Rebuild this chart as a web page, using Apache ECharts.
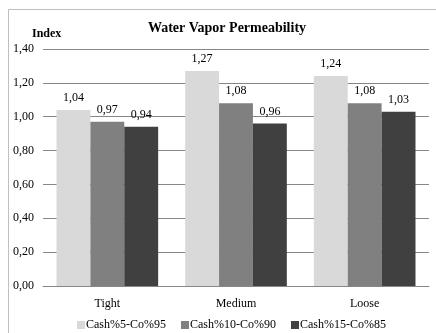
<!DOCTYPE html>
<html><head><meta charset="utf-8">
<script src="https://cdn.jsdelivr.net/npm/echarts@6/dist/echarts.min.js"></script>
<style>html,body{margin:0;padding:0;background:#fff}#c{width:436px;height:333px}</style>
</head><body><div id="c"></div>
<script>
var categories = ['Tight', 'Medium', 'Loose'];
var seriesNames = ['Cash%5-Co%95', 'Cash%10-Co%90', 'Cash%15-Co%85'];
var s1 = [1.04, 1.27, 1.24];
var s2 = [0.97, 1.08, 1.08];
var s3 = [0.94, 0.96, 1.03];
var colors = ['#d9d9d9', '#808080', '#404040'];
var font = '"Liberation Serif", "Times New Roman", serif';
function fmt(v){ return v.toFixed(2).replace('.', ','); }
var chart = echarts.init(document.getElementById('c'));
var data = [s1, s2, s3];
chart.setOption({
  animation: false,
  textStyle: {fontFamily: font},
  graphic: [
    {type: 'line', shape: {x1: 8.5, y1: 9.5, x2: 436, y2: 9.5}, style: {stroke: '#bfbfbf', lineWidth: 1}},
    {type: 'line', shape: {x1: 8.5, y1: 9.5, x2: 8.5, y2: 333}, style: {stroke: '#bfbfbf', lineWidth: 1}}
  ],
  title: [{text: 'Water Vapor Permeability', left: 222, top: 16, textAlign: 'center',
    textStyle: {fontFamily: font, fontSize: 14, fontWeight: 'bold', color: '#000'}},
    {text: 'Index', left: 27, top: 23, textStyle: {fontFamily: font, fontSize: 12, fontWeight: 'bold', color: '#000'}}],
  legend: {bottom: -3, left: 72, itemWidth: 8, itemHeight: 8, itemGap: 15,
    textStyle: {fontFamily: font, fontSize: 12, color: '#000', padding: [0,0,0,-4]},
    icon: 'rect', data: seriesNames},
  grid: {left: 43, right: 7, top: 49, bottom: 47},
  xAxis: {type: 'category', data: categories,
    axisLine: {lineStyle: {color: '#868686'}}, axisTick: {show: false},
    axisLabel: {fontFamily: font, fontSize: 12, color: '#000', margin: 12}},
  yAxis: {type: 'value', min: 0, max: 1.4, interval: 0.2,
    axisLabel: {fontFamily: font, fontSize: 12, color: '#000', formatter: fmt, margin: 9},
    splitLine: {lineStyle: {color: '#868686'}}, axisLine: {show: false}, axisTick: {show: false}},
  series: data.map(function(d, i){
    return {name: seriesNames[i], type: 'bar', data: d, barGap: '0%', barCategoryGap: '21%',
      itemStyle: {color: colors[i]},
      label: {show: true, position: 'top', formatter: function(p){return fmt(p.value);},
        fontFamily: font, fontSize: 12, color: '#000', distance: 6}};
  })
});
</script></body></html>
